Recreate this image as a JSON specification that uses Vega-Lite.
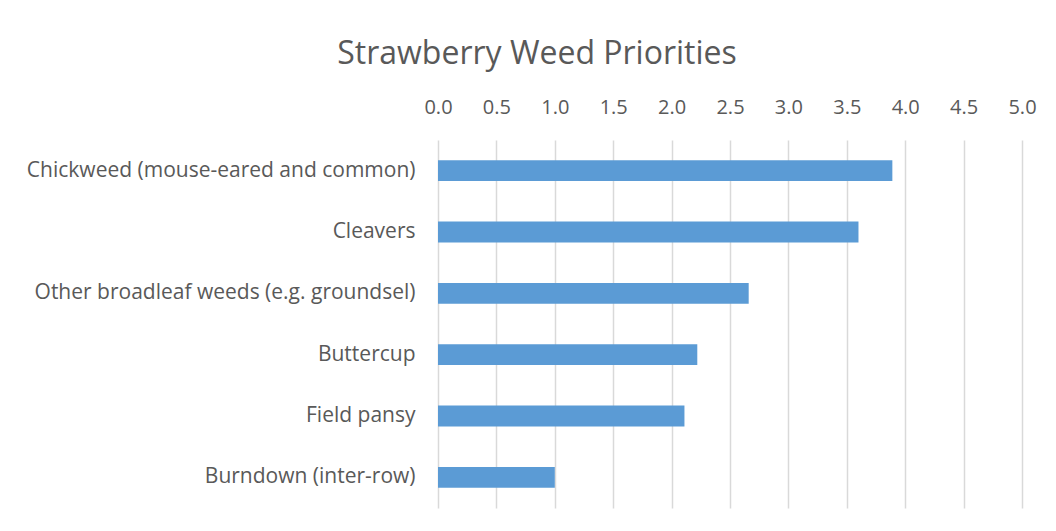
{
  "$schema": "https://vega.github.io/schema/vega-lite/v6.json",
  "autosize": "none",
  "width": 584,
  "height": 368,
  "padding": {"left": 438, "top": 140, "right": 34, "bottom": 23},
  "background": "white",
  "title": {
    "text": "Strawberry Weed Priorities",
    "anchor": "middle",
    "dx": -193,
    "offset": 26,
    "font": "Open Sans",
    "fontSize": 32,
    "fontWeight": "normal",
    "color": "#595959"
  },
  "data": {
    "values": [
      {"weed": "Chickweed (mouse-eared and common)", "priority": 3.89},
      {"weed": "Cleavers", "priority": 3.6},
      {"weed": "Other broadleaf weeds (e.g. groundsel)", "priority": 2.66},
      {"weed": "Buttercup", "priority": 2.22},
      {"weed": "Field pansy", "priority": 2.11},
      {"weed": "Burndown (inter-row)", "priority": 1.0}
    ]
  },
  "mark": {"type": "bar", "color": "#5b9bd5"},
  "encoding": {
    "y": {
      "field": "weed",
      "type": "nominal",
      "sort": null,
      "title": null,
      "scale": {"paddingInner": 0.66, "paddingOuter": 0.33},
      "axis": {
        "domain": false,
        "ticks": false,
        "grid": false,
        "labelFont": "Open Sans",
        "labelFontSize": 21,
        "labelColor": "#595959",
        "labelPadding": 23,
        "labelLimit": 500
      }
    },
    "x": {
      "field": "priority",
      "type": "quantitative",
      "title": null,
      "scale": {"domain": [0, 5], "nice": false},
      "axis": {
        "orient": "top",
        "values": [0, 0.5, 1, 1.5, 2, 2.5, 3, 3.5, 4, 4.5, 5],
        "format": ".1f",
        "domain": false,
        "ticks": false,
        "grid": true,
        "gridColor": "#d9d9d9",
        "gridWidth": 1.5,
        "labelFont": "Open Sans",
        "labelFontSize": 20,
        "labelColor": "#595959",
        "labelPadding": 23,
        "labelFlush": false
      }
    }
  },
  "config": {"view": {"stroke": null}}
}
